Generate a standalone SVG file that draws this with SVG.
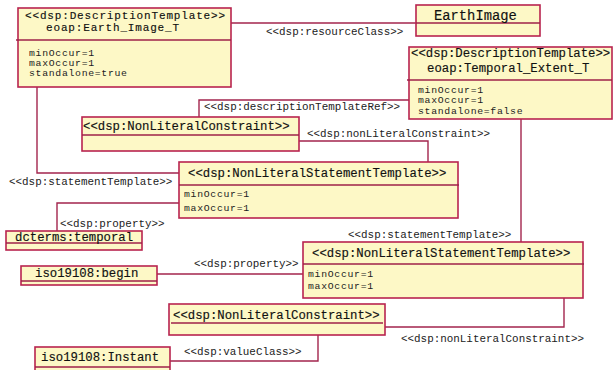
<svg xmlns="http://www.w3.org/2000/svg" width="613" height="370" viewBox="0 0 613 370">
<style>
.box{fill:#fdf8c6;stroke:#b8244f;stroke-width:1.6}
.div{stroke:#9e2248;stroke-width:1.6;fill:none}
.h{font-family:"Liberation Mono","Courier New",monospace;font-size:12.3px;fill:#111;stroke:#111;stroke-width:0.15}
.h2{font-family:"Liberation Mono","Courier New",monospace;font-size:11px;letter-spacing:0.84px;fill:#111;stroke:#111;stroke-width:0.15}
.cls{font-family:"Liberation Mono","Courier New",monospace;font-size:13.8px;fill:#111;stroke:#111;stroke-width:0.15}
.a{font-family:"Liberation Mono","Courier New",monospace;font-size:9.8px;letter-spacing:0.7px;fill:#222}
.lbl{font-family:"Liberation Mono","Courier New",monospace;font-size:10.9px;fill:#222}
.c{fill:none;stroke:#a3254d;stroke-width:1.4}
</style>
<rect width="613" height="370" fill="#ffffff"/>
<g id="connectors">
<path class="c" d="M231,23 H416"/>
<path class="c" d="M199,118 V100 H409"/>
<path class="c" d="M299,141 H428 V162"/>
<path class="c" d="M37,87 V173 H179"/>
<path class="c" d="M179,203 H57 V231"/>
<path class="c" d="M521,119 V242"/>
<path class="c" d="M157,274 H303"/>
<path class="c" d="M385,327 H564 V298"/>
<path class="c" d="M318,335 V361 H170"/>
<text class="lbl" x="266" y="34.5">&lt;&lt;dsp:resourceClass&gt;&gt;</text>
<text class="lbl" x="204" y="109.5">&lt;&lt;dsp:descriptionTemplateRef&gt;&gt;</text>
<text class="lbl" x="307" y="136.5">&lt;&lt;dsp:nonLiteralConstraint&gt;&gt;</text>
<text class="lbl" x="9" y="184.5">&lt;&lt;dsp:statementTemplate&gt;&gt;</text>
<text class="lbl" x="60" y="226.5">&lt;&lt;dsp:property&gt;&gt;</text>
<text class="lbl" x="348" y="237.5">&lt;&lt;dsp:statementTemplate&gt;&gt;</text>
<text class="lbl" x="194" y="266.5">&lt;&lt;dsp:property&gt;&gt;</text>
<text class="lbl" x="401" y="341.5">&lt;&lt;dsp:nonLiteralConstraint&gt;&gt;</text>
<text class="lbl" x="184" y="354.5">&lt;&lt;dsp:valueClass&gt;&gt;</text>
</g>
<g id="earth_image_t">
<rect class="box" x="18" y="8" width="213" height="79"/>
<line class="div" x1="16" y1="40" x2="231" y2="40"/>
<text class="h2" x="25" y="18.5">&lt;&lt;dsp:DescriptionTemplate&gt;&gt;</text>
<text class="h2" x="46" y="31">eoap:Earth_Image_T</text>
<text class="a" x="29" y="55.5">minOccur=1</text>
<text class="a" x="29" y="65.5">maxOccur=1</text>
<text class="a" x="29" y="75.5">standalone=true</text>
</g>
<g id="earthimage">
<rect class="box" x="416" y="5" width="124" height="31"/>
<line class="div" x1="416" y1="23" x2="540" y2="23"/>
<text class="cls" x="434" y="20">EarthImage</text>
</g>
<g id="temporal_extent_t">
<rect class="box" x="409" y="47" width="203" height="72"/>
<line class="div" x1="407" y1="80" x2="612" y2="80"/>
<text class="h" x="411" y="57">&lt;&lt;dsp:DescriptionTemplate&gt;&gt;</text>
<text class="h" x="427" y="72">eoap:Temporal_Extent_T</text>
<text class="a" x="418" y="92.5">minOccur=1</text>
<text class="a" x="418" y="103">maxOccur=1</text>
<text class="a" x="418" y="113.5">standalone=false</text>
</g>
<g id="nlc1">
<rect class="box" x="82" y="117" width="217" height="34"/>
<line class="div" x1="82" y1="135" x2="299" y2="135"/>
<text class="h" x="83" y="130">&lt;&lt;dsp:NonLiteralConstraint&gt;&gt;</text>
</g>
<g id="nlst1">
<rect class="box" x="179" y="162" width="279" height="56"/>
<line class="div" x1="179" y1="185" x2="459" y2="185"/>
<text class="h" x="188" y="177">&lt;&lt;dsp:NonLiteralStatementTemplate&gt;&gt;</text>
<text class="a" x="184" y="196.5">minOccur=1</text>
<text class="a" x="184" y="210.5">maxOccur=1</text>
</g>
<g id="dcterms_temporal">
<rect class="box" x="6" y="231" width="136" height="19"/>
<line class="div" x1="6" y1="243" x2="142" y2="243"/>
<text class="h" x="15" y="241">dcterms:temporal</text>
</g>
<g id="iso_begin">
<rect class="box" x="21" y="266" width="136" height="19"/>
<line class="div" x1="21" y1="281" x2="157" y2="281"/>
<text class="h" x="35" y="277">iso19108:begin</text>
</g>
<g id="nlst2">
<rect class="box" x="303" y="242" width="280" height="56"/>
<line class="div" x1="303" y1="264" x2="584" y2="264"/>
<text class="h" x="312" y="257">&lt;&lt;dsp:NonLiteralStatementTemplate&gt;&gt;</text>
<text class="a" x="308" y="276.5">minOccur=1</text>
<text class="a" x="308" y="288.5">maxOccur=1</text>
</g>
<g id="nlc2">
<rect class="box" x="169" y="304" width="216" height="31"/>
<line class="div" x1="171" y1="323" x2="383" y2="323"/>
<text class="h" x="173" y="319">&lt;&lt;dsp:NonLiteralConstraint&gt;&gt;</text>
</g>
<g id="iso_instant">
<rect class="box" x="35" y="347" width="135" height="30"/>
<line class="div" x1="35" y1="367" x2="170" y2="367"/>
<text class="h" x="41" y="361">iso19108:Instant</text>
</g>
</svg>
